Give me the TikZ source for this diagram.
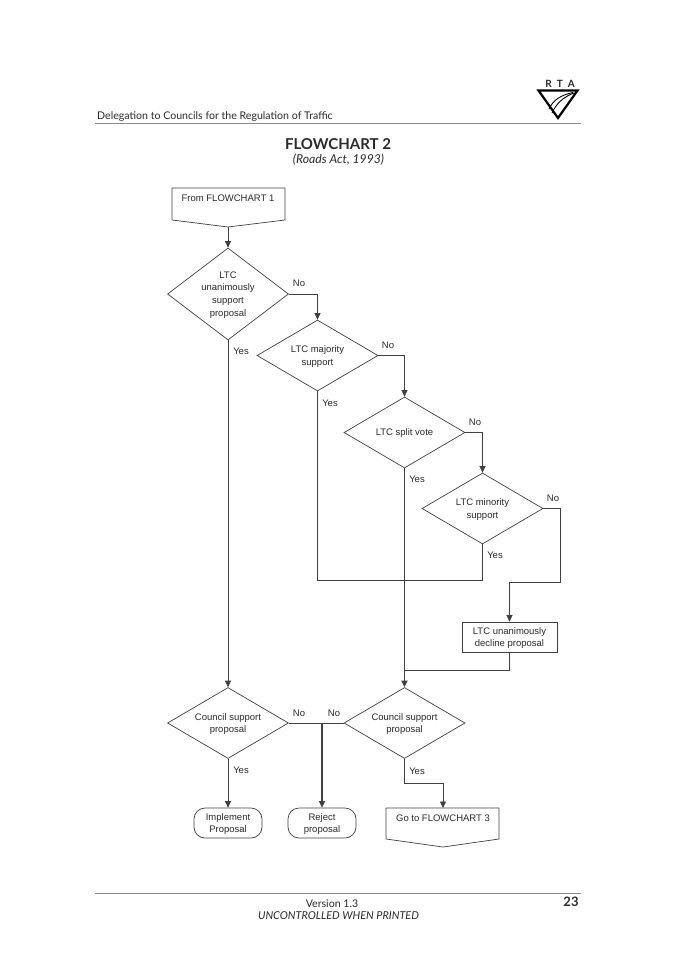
\documentclass[tikz,border=0pt]{standalone}
\usepackage{fontspec}
\setmainfont{Liberation Sans}
\newfontfamily\gillfont{Lato}
\usetikzlibrary{shapes.geometric,arrows.meta}
\definecolor{linegrey}{HTML}{404040}
\definecolor{rulegrey}{HTML}{8A8A8A}
\definecolor{textgrey}{HTML}{2A2A2A}
\tikzset{
    chartfont/.style={font=\fontsize{9.5}{12.8}\selectfont,text=textgrey},
    decision/.style={draw=linegrey,line width=0.7pt,diamond,aspect=1.3,inner xsep=-12pt,inner ysep=-10pt,minimum width=121pt,align=center,chartfont,text depth=-4pt},
    procbox/.style={draw=linegrey,line width=0.7pt,rectangle,align=center,chartfont,text depth=-4pt},
    endbox/.style={procbox,rounded corners=11pt,minimum width=68pt,minimum height=30pt,inner sep=0pt},
    answer/.style={chartfont,inner sep=0pt},
    offpage/.style={draw=linegrey,line width=0.7pt},
    flow/.style={draw=linegrey,line width=0.7pt},
    flowarrow/.style={flow,-{Triangle[length=6.5pt,width=6pt]}},
    pagetext/.style={inner sep=0pt,text=textgrey},
    pagerule/.style={draw=rulegrey,line width=1pt}
}
\begin{document}
\begin{tikzpicture}[x=1pt,y=-1pt]
    \useasboundingbox (0,0) rectangle (675,955);

    \node[pagetext,anchor=base west,font=\gillfont\fontsize{10.6}{12}\selectfont] (page_title) at (97,119.5) {Delegation to Councils for the Regulation of Traffic};
    \coordinate (rule_t_l) at (95,124);
    \coordinate (rule_t_r) at (581,124);
    \draw[pagerule] (rule_t_l) -- (rule_t_r);

    \node[pagetext,font=\gillfont\bfseries\fontsize{15}{17}\selectfont] (chart_title) at (338,144.5) {FLOWCHART 2};
    \node[pagetext,font=\gillfont\itshape\fontsize{12.2}{14}\selectfont] (chart_act) at (338.5,160) {(Roads Act, 1993)};

    \node[pagetext,font=\gillfont\bfseries\fontsize{10}{11}\selectfont] (logo_text) at (560,83.5) {R\,\,\,T\,\,\,A};
    \draw[black,line width=2.2pt,line join=miter] (538.5,90.5) -- (577.5,90.5) -- (558,118) -- cycle;
    \draw[black,line width=0.9pt] (549,109) .. controls (553,100) and (561,95) .. (573,92.5);
    \draw[black,line width=0.9pt] (552,113) .. controls (556,104) and (563,97) .. (574,93);

    \coordinate (from_1_b) at (228,227);
    \draw[offpage] (172,188) -- (285,188) -- (285,220) -- (from_1_b) -- (172,220) -- cycle;
    \node[answer] (from_1) at (228,198) {From FLOWCHART 1};

    \node[decision,minimum height=92pt] (d_unan) at (228,294) {LTC\\unanimously\\support\\proposal};
    \node[decision,minimum height=71pt] (d_maj) at (317.5,355.5) {LTC majority\\support};
    \node[decision,minimum height=71pt] (d_split) at (404.5,432.5) {LTC split vote};
    \node[decision,minimum height=71pt] (d_min) at (482.5,508.5) {LTC minority\\support};
    \node[procbox,minimum width=95pt,minimum height=30pt,inner sep=0pt] (b_decl) at (509.5,637) {LTC unanimously\\decline proposal};
    \node[decision,minimum height=71pt] (d_coun_l) at (228,723) {Council support\\proposal};
    \node[decision,minimum height=71pt] (d_coun_r) at (404.5,723) {Council support\\proposal};

    \node[endbox] (e_impl) at (228,823) {Implement\\Proposal};
    \node[endbox] (e_rej) at (322,823) {Reject\\proposal};

    \coordinate (go_3_t) at (443,808);
    \draw[offpage] (386,808) -- (go_3_t) -- (499,808) -- (499,839) -- (443,847) -- (386,839) -- cycle;
    \node[answer] (go_3) at (443,818) {Go to FLOWCHART 3};

    \draw[flowarrow] (from_1_b) -- (d_unan.north);
    \draw[flowarrow] (d_unan.south) -- (d_coun_l.north);
    \draw[flowarrow] (d_unan.east) -| (d_maj.north);
    \draw[flowarrow] (d_maj.east) -| (d_split.north);
    \draw[flowarrow] (d_split.east) -| (d_min.north);

    \coordinate (split_in) at (404.5,580);
    \draw[flow] (d_split.south) -- (split_in);
    \draw[flowarrow,line width=1.7pt] (split_in) -- (d_coun_r.north);

    \coordinate (min_out) at (560,582);
    \coordinate (merge_y) at (482.5,580);
    \draw[flow] (d_maj.south) |- (merge_y) -- (d_min.south);
    \draw[flowarrow] (d_min.east) -| (min_out) -| (b_decl.north);
    \coordinate (decl_in) at (404.5,670);
    \draw[flow] (b_decl.south) |- (decl_in);

    \draw[flow] (d_coun_l.east) -- (d_coun_r.west);
    \coordinate (rej_in) at (322,723);
    \draw[flowarrow,line width=1.1pt] (rej_in) -- (e_rej.north);
    \draw[flowarrow] (d_coun_l.south) -- (e_impl.north);
    \coordinate (go_mid) at (404.5,783);
    \draw[flowarrow] (d_coun_r.south) -- (go_mid) -| (go_3_t);

    \node[answer] (a_1) at (299,283) {No};
    \node[answer] (a_2) at (241,351) {Yes};
    \node[answer] (a_3) at (388,345) {No};
    \node[answer] (a_4) at (330,403) {Yes};
    \node[answer] (a_5) at (475,422) {No};
    \node[answer] (a_6) at (417,479) {Yes};
    \node[answer] (a_7) at (553,498) {No};
    \node[answer] (a_8) at (495,555) {Yes};
    \node[answer] (a_9) at (299,713) {No};
    \node[answer] (a_10) at (334,713) {No};
    \node[answer] (a_11) at (241,770) {Yes};
    \node[answer] (a_12) at (417,771) {Yes};

    \coordinate (rule_b_l) at (95,893.5);
    \coordinate (rule_b_r) at (581,893.5);
    \draw[pagerule] (rule_b_l) -- (rule_b_r);
    \node[pagetext,font=\gillfont\fontsize{10.6}{12}\selectfont] (foot_ver) at (332,903.5) {Version 1.3};
    \node[pagetext,font=\gillfont\itshape\fontsize{10.85}{12}\selectfont] (foot_unc) at (338.5,916) {UNCONTROLLED WHEN PRINTED};
    \node[pagetext,font=\gillfont\bfseries\fontsize{13}{15}\selectfont] (foot_page) at (571,902) {23};
\end{tikzpicture}
\end{document}
